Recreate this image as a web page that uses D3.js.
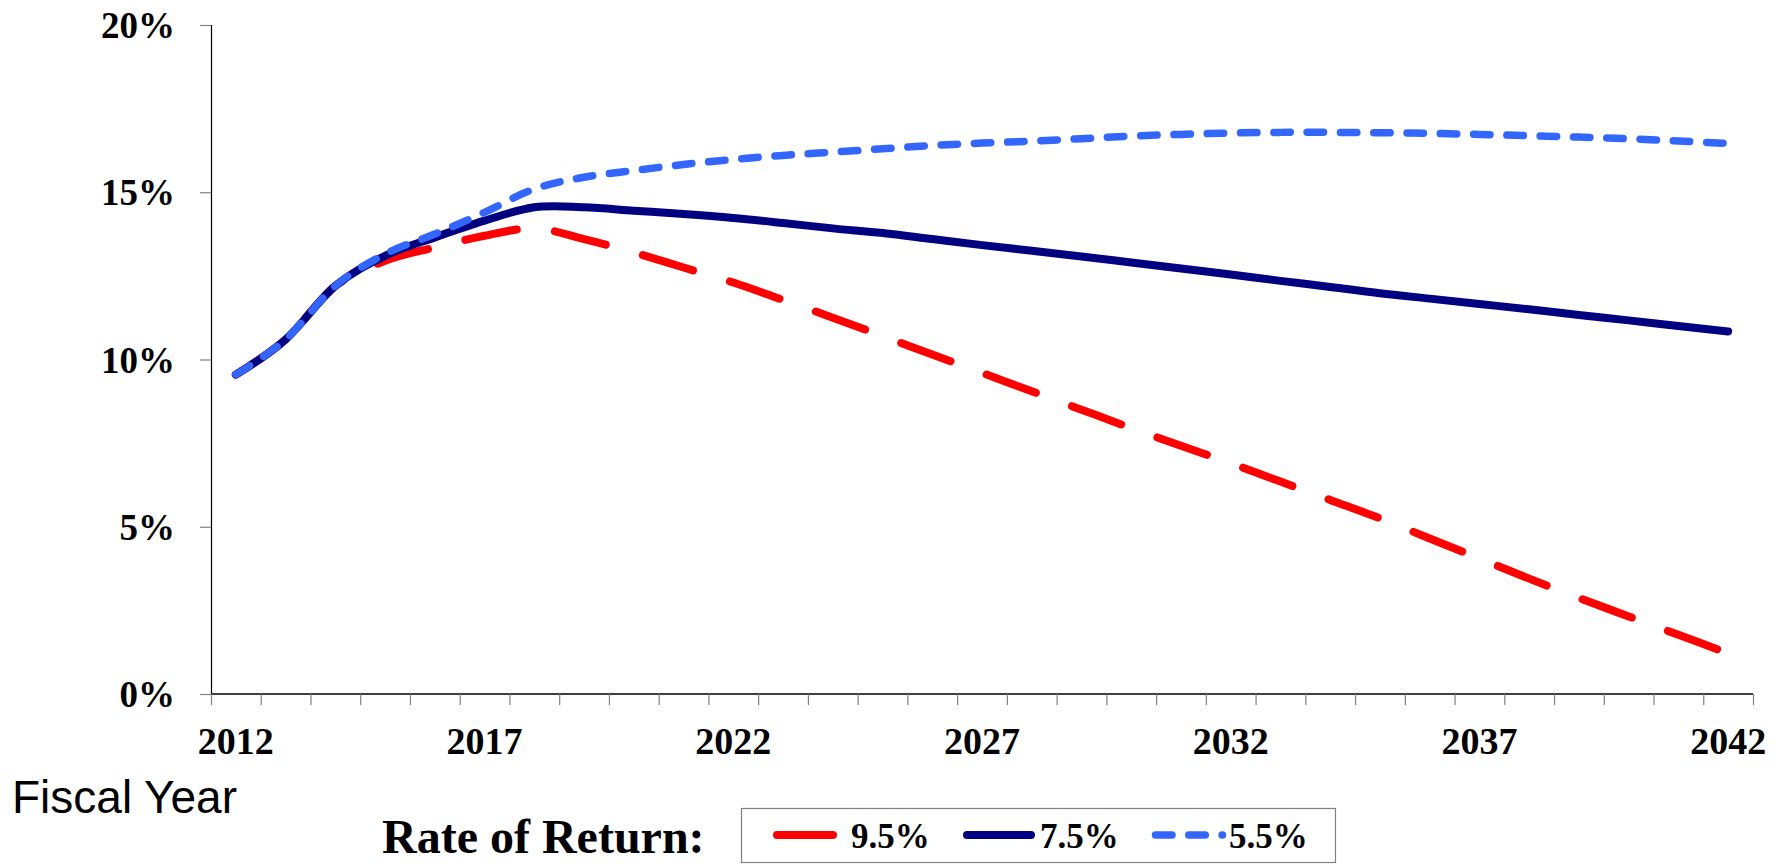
<!DOCTYPE html>
<html>
<head>
<meta charset="utf-8">
<script src="https://cdn.jsdelivr.net/npm/d3@7"></script>
<style>
  html, body { margin: 0; padding: 0; background: #fff; }
  svg { display: block; }
</style>
</head>
<body>
<svg id="chart" width="1779" height="864"></svg>
<script>
// Fiscal years on the category axis
const years = d3.range(2012, 2043);
const yearLabels = [2012, 2017, 2022, 2027, 2032, 2037, 2042];
const pctTicks = [0, 5, 10, 15, 20];

// Projected ratio (%) under each assumed rate of return
const rate95 = [9.55, 10.6, 12.2, 12.95, 13.35, 13.7, 13.92, 13.6, 13.2, 12.75,
                12.3, 11.78, 11.25, 10.7, 10.15, 9.6, 9.05, 8.5, 7.95, 7.42,
                6.9, 6.35, 5.8, 5.25, 4.65, 4.05, 3.45, 2.87, 2.32, 1.77, 1.22];
const rate75 = [9.55, 10.6, 12.2, 13.1, 13.65, 14.15, 14.55, 14.55, 14.45, 14.35,
                14.23, 14.08, 13.92, 13.78, 13.6, 13.42, 13.25, 13.08, 12.9, 12.72,
                12.54, 12.35, 12.17, 11.98, 11.82, 11.66, 11.5, 11.33, 11.17, 11.0, 10.84];
const rate55 = [9.55, 10.6, 12.2, 13.15, 13.75, 14.4, 15.1, 15.45, 15.65, 15.83,
                15.98, 16.1, 16.2, 16.3, 16.4, 16.47, 16.53, 16.6, 16.68, 16.73,
                16.77, 16.79, 16.79, 16.78, 16.76, 16.73, 16.69, 16.65, 16.6, 16.53, 16.46];

const seriesNames = ["9.5%", "7.5%", "5.5%"];
const seriesValues = [rate95, rate75, rate55];

const styles = [
  { color: "#FF0000", width: 8, dash: "52.5 38.5" },
  { color: "#000080", width: 8, dash: null },
  { color: "#3366FF", width: 7.5, dash: "16.5 16.8" }
];

const svg = d3.select("#chart");
const plotLeft = 211, plotRight = 1753, plotTop = 25, plotBottom = 694;

// Category boundaries sit at half-years so points fall in the band centres
const x = d3.scaleLinear().domain([2011.5, 2042.5]).range([plotLeft, plotRight]);
const y = d3.scaleLinear().domain([0, 20]).range([plotBottom, plotTop]);

const serif = "'Liberation Serif', 'Times New Roman', serif";

// Y axis
const yAxis = svg.append("g")
  .attr("transform", `translate(${plotLeft},0)`)
  .call(d3.axisLeft(y).tickValues(pctTicks).tickSize(11).tickPadding(25)
        .tickFormat(d => d + "%"));
yAxis.select(".domain").attr("stroke", "#000").attr("stroke-width", 1.2);
yAxis.selectAll(".tick line").attr("stroke", "#808080").attr("stroke-width", 1.2);
yAxis.selectAll(".tick text")
  .attr("fill", "#000")
  .attr("font-family", serif)
  .attr("font-weight", "bold")
  .attr("font-size", 37)
  .attr("dy", "0.34em");

// X axis: tick marks on every category boundary
const boundaries = d3.range(2011.5, 2043, 1);
const xAxis = svg.append("g")
  .attr("transform", `translate(0,${plotBottom})`)
  .call(d3.axisBottom(x).tickValues(boundaries).tickSize(11).tickFormat(""));
xAxis.select(".domain").attr("stroke", "#000").attr("stroke-width", 1.5)
  .attr("d", `M${plotLeft},0H${plotRight}`);
xAxis.selectAll(".tick line").attr("stroke", "#808080").attr("stroke-width", 1.2);

// Year labels centred on their categories
svg.append("g").selectAll("text")
  .data(yearLabels)
  .join("text")
  .attr("x", d => x(d))
  .attr("y", 754)
  .attr("text-anchor", "middle")
  .attr("font-family", serif)
  .attr("font-weight", "bold")
  .attr("font-size", 38)
  .text(d => d);

// Series lines
const line = d3.line()
  .x((d, i) => x(years[i]))
  .y(d => y(d))
  .curve(d3.curveCatmullRom.alpha(0));

svg.append("g").selectAll("path")
  .data(seriesValues)
  .join("path")
  .attr("d", d => line(d))
  .attr("fill", "none")
  .attr("stroke", (d, i) => styles[i].color)
  .attr("stroke-width", (d, i) => styles[i].width)
  .attr("stroke-dasharray", (d, i) => styles[i].dash)
  .attr("stroke-linecap", "round")
  .attr("stroke-linejoin", "round");

// Axis title
svg.append("text")
  .attr("x", 12)
  .attr("y", 813)
  .attr("font-family", "'Liberation Sans', Arial, sans-serif")
  .attr("font-size", 46)
  .text("Fiscal Year");

// Legend
svg.append("text")
  .attr("x", 382)
  .attr("y", 853)
  .attr("font-family", serif)
  .attr("font-weight", "bold")
  .attr("font-size", 48)
  .text("Rate of Return:");

svg.append("rect")
  .attr("x", 741.5).attr("y", 808.5)
  .attr("width", 594).attr("height", 54)
  .attr("fill", "#fff")
  .attr("stroke", "#808080")
  .attr("stroke-width", 1.2);

const legendItems = [
  { x0: 777, x1: 833, tx: 851 },
  { x0: 967, x1: 1031, tx: 1040 },
  { x0: 1155.5, x1: 1222.5, tx: 1229 }
];
const legend = svg.append("g");
legendItems.forEach((item, i) => {
  legend.append("line")
    .attr("x1", item.x0).attr("x2", item.x1)
    .attr("y1", 835).attr("y2", 835)
    .attr("stroke", styles[i].color)
    .attr("stroke-width", styles[i].width)
    .attr("stroke-dasharray", i === 0 ? null : styles[i].dash)
    .attr("stroke-linecap", "round");
  legend.append("text")
    .attr("x", item.tx)
    .attr("y", 848)
    .attr("font-family", serif)
    .attr("font-weight", "bold")
    .attr("font-size", 35)
    .text(seriesNames[i]);
});
</script>
</body>
</html>
